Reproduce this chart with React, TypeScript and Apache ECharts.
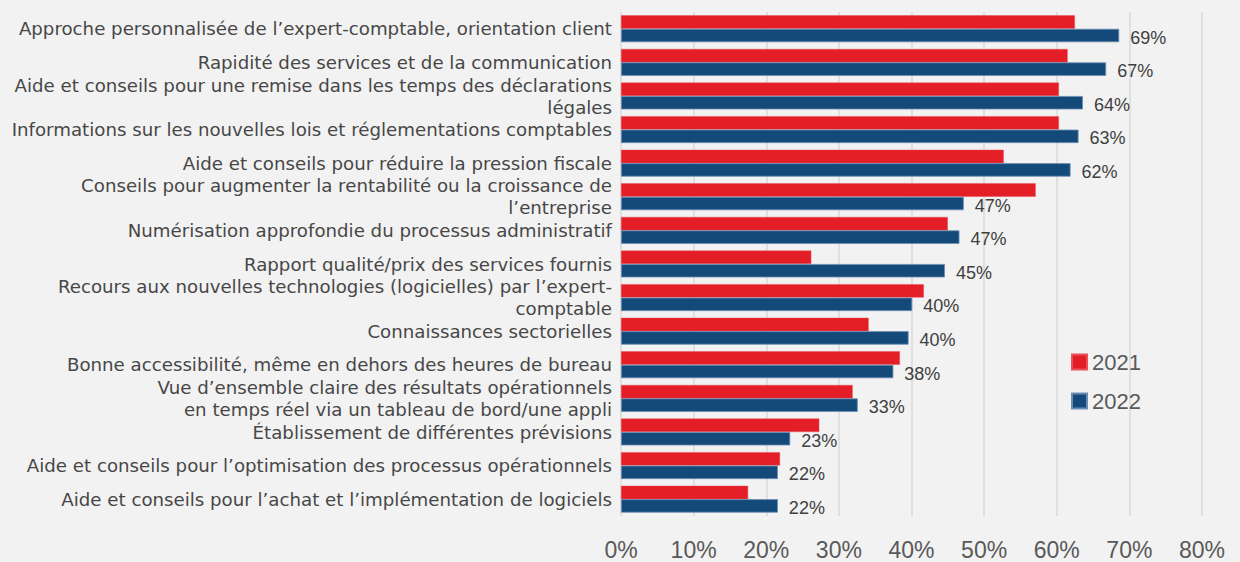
import React, { useEffect, useRef } from "react";
import * as echarts from "echarts";

const categories: string[] = [
  "Approche personnalisée de l’expert-comptable, orientation client",
  "Rapidité des services et de la communication",
  "Aide et conseils pour une remise dans les temps des déclarations\nlégales",
  "Informations sur les nouvelles lois et réglementations comptables",
  "Aide et conseils pour réduire la pression fiscale",
  "Conseils pour augmenter la rentabilité ou la croissance de\nl’entreprise",
  "Numérisation approfondie du processus administratif",
  "Rapport qualité/prix des services fournis",
  "Recours aux nouvelles technologies (logicielles) par l’expert-\ncomptable",
  "Connaissances sectorielles",
  "Bonne accessibilité, même en dehors des heures de bureau",
  "Vue d’ensemble claire des résultats opérationnels\nen temps réel via un tableau de bord/une appli",
  "Établissement de différentes prévisions",
  "Aide et conseils pour l’optimisation des processus opérationnels",
  "Aide et conseils pour l’achat et l’implémentation de logiciels",
];

const values2021: number[] = [62.5, 61.5, 60.3, 60.3, 52.7, 57.1, 45.0, 26.2, 41.7, 34.1, 38.4, 31.9, 27.3, 21.9, 17.5];
const values2022: number[] = [68.6, 66.8, 63.6, 63.0, 61.9, 47.2, 46.6, 44.6, 40.1, 39.6, 37.5, 32.6, 23.3, 21.6, 21.6];

const seriesNames: string[] = ["2021", "2022"];
const xTicks = { min: 0, max: 80, interval: 10 };

export default function App() {
  const ref = useRef<HTMLDivElement>(null);

  useEffect(() => {
    if (!ref.current) return;
    const chart = echarts.init(ref.current, null, { renderer: "svg" });
    const catFont = "'DejaVu Sans', Inter, sans-serif";
    const numFont = "'Liberation Sans', Arial, sans-serif";
    chart.setOption({
      animation: false,
      backgroundColor: "#f2f2f2",
      textStyle: { fontFamily: numFont },
      grid: { left: 621, right: 38, top: 12, bottom: 46, containLabel: false },
      legend: {
        orient: "vertical",
        left: 1071,
        top: 351,
        padding: 0,
        icon: "rect",
        itemWidth: 15,
        itemHeight: 15,
        itemGap: 17,
        textStyle: { fontSize: 22, color: "#595959", fontFamily: numFont },
        data: seriesNames,
      },
      xAxis: {
        type: "value",
        min: xTicks.min,
        max: xTicks.max,
        interval: xTicks.interval,
        axisLine: { show: false },
        axisTick: { show: false },
        splitLine: { show: true, lineStyle: { color: "#d9d9d9", width: 1.5 } },
        axisLabel: {
          formatter: "{value}%",
          fontSize: 23,
          color: "#595959",
          margin: 22,
          fontFamily: numFont,
        },
      },
      yAxis: {
        type: "category",
        inverse: true,
        data: categories,
        axisLine: { show: false },
        axisTick: { show: false },
        axisLabel: {
          fontSize: 18.2,
          color: "#474747",
          margin: 9,
          lineHeight: 22,
          align: "right",
          padding: [7, 0, 0, 0],
          fontFamily: catFont,
        },
      },
      series: [
        {
          name: seriesNames[0],
          type: "bar",
          data: values2021,
          barGap: "0%",
          barCategoryGap: "20%",
          itemStyle: { color: "#e31e26", borderColor: "#e9505a", borderWidth: 0.5 },
        },
        {
          name: seriesNames[1],
          type: "bar",
          data: values2022,
          barGap: "0%",
          barCategoryGap: "20%",
          itemStyle: { color: "#144a7a", borderColor: "#6b8db3", borderWidth: 0.8 },
          label: {
            show: true,
            position: "right",
            distance: 11,
            offset: [0, 2],
            fontSize: 18,
            color: "#404040",
            fontFamily: numFont,
            formatter: (p: any) => Math.round(p.value) + "%",
          },
        },
      ],
    });
    return () => chart.dispose();
  }, []);

  return (
    <div
      ref={ref}
      style={{ position: "absolute", left: 0, top: 0, width: 1240, height: 562 }}
    />
  );
}
